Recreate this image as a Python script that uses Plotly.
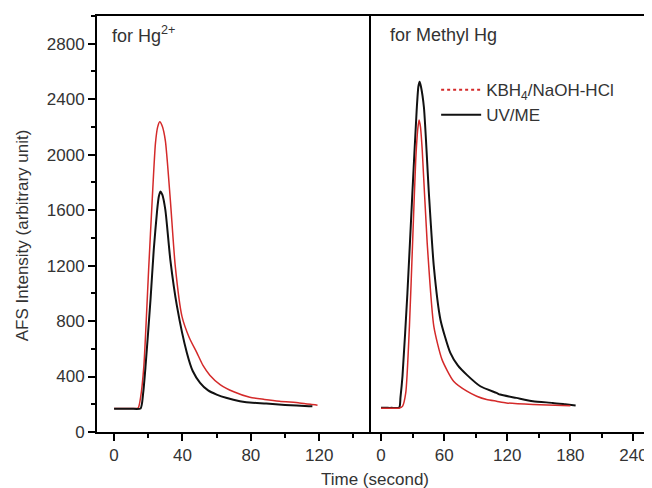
import plotly.graph_objects as go

# ---- data ----
hg_kbh_t = [0, 5, 10, 14, 15.5, 17.4, 20.3, 22.3, 24.2, 25.5, 26.7, 28.2, 30, 32.9, 35.8, 39.7, 44, 48.4, 52, 56, 62, 70, 79.4, 88, 96.8, 108.4, 115, 119]
hg_kbh_y = [170, 170, 170, 172, 250, 474, 1194, 1674, 2083, 2200, 2238, 2205, 2100, 1674, 1194, 834, 680, 572, 480, 410, 342, 290, 250, 235, 222, 210, 200, 193]

hg_uv_t = [0, 5, 10, 15.5, 17, 18.4, 21.3, 23.2, 25.2, 26.2, 27.1, 28.2, 30, 32.9, 36.8, 42.6, 46, 50.3, 55, 60, 66, 73.6, 77.4, 89, 100, 114, 116]
hg_uv_y = [168, 168, 168, 170, 280, 474, 954, 1314, 1602, 1700, 1734, 1712, 1600, 1242, 906, 570, 440, 355, 300, 270, 245, 222, 215, 205, 195, 186, 185]

me_kbh_t = [0, 5, 10, 17, 20.4, 23.5, 27, 30, 33, 35, 36.2, 37.5, 39.2, 43.9, 50.2, 58, 69, 81.6, 91, 100.4, 109.8, 119.2, 144.4, 172.6, 180]
me_kbh_y = [172, 172, 172, 172, 185, 282, 762, 1362, 1962, 2190, 2250, 2200, 2030, 1362, 762, 522, 366, 294, 258, 234, 222, 210, 198, 191, 190]

me_uv_t = [0, 5, 10, 17.3, 18.5, 20.4, 25.1, 29.8, 33.9, 35.5, 36.7, 38, 40.8, 45.5, 50.2, 56.5, 65.9, 73, 81.6, 94.4, 109.8, 113.2, 128.7, 144.4, 163.2, 175, 185]
me_uv_y = [174, 174, 174, 176, 250, 402, 1002, 1722, 2322, 2490, 2526, 2490, 2340, 1722, 1194, 810, 570, 480, 412, 330, 282, 270, 246, 222, 210, 200, 191]

series_names = ["KBH<sub>4</sub>/NaOH-HCl", "UV/ME"]
panel_labels = ["for Hg<sup>2+</sup>", "for Methyl Hg"]
y_ticks = [0, 400, 800, 1200, 1600, 2000, 2400, 2800]
x1_ticks = [0, 40, 80, 120]
x2_ticks = [0, 60, 120, 180, 240]

RED = "#d42a2a"
BLACK = "#111111"
FONT = "Liberation Sans, Arial, sans-serif"
TXT = "#333333"

fig = go.Figure()

fig.add_trace(go.Scatter(x=hg_kbh_t, y=hg_kbh_y, xaxis="x", yaxis="y", mode="lines",
                         line=dict(color=RED, width=1.5, shape="spline", smoothing=0.6), showlegend=False))
fig.add_trace(go.Scatter(x=hg_uv_t, y=hg_uv_y, xaxis="x", yaxis="y", mode="lines",
                         line=dict(color=BLACK, width=2, shape="spline", smoothing=0.6), showlegend=False))
fig.add_trace(go.Scatter(x=me_uv_t, y=me_uv_y, xaxis="x2", yaxis="y2", mode="lines",
                         line=dict(color=BLACK, width=2, shape="spline", smoothing=0.6), showlegend=False))
fig.add_trace(go.Scatter(x=me_kbh_t, y=me_kbh_y, xaxis="x2", yaxis="y2", mode="lines",
                         line=dict(color=RED, width=1.5, shape="spline", smoothing=0.6), showlegend=False))

# legend entries
fig.add_trace(go.Scatter(x=[None], y=[None], xaxis="x2", yaxis="y2", mode="lines", name=series_names[0],
                         line=dict(color=RED, width=2, dash="dot")))
fig.add_trace(go.Scatter(x=[None], y=[None], xaxis="x2", yaxis="y2", mode="lines", name=series_names[1],
                         line=dict(color=BLACK, width=2)))

axis_common = dict(showline=True, linecolor="black", linewidth=2,
                   showgrid=False, zeroline=False, ticks="outside", ticklen=7, tickwidth=1.5,
                   tickcolor="black", tickfont=dict(family=FONT, size=17, color=TXT))

fig.update_layout(
    width=644, height=480,
    margin=dict(l=89, r=4, t=8, b=56),
    paper_bgcolor="white", plot_bgcolor="white",
    font=dict(family=FONT, color=TXT, size=17),
    xaxis=dict(domain=[0, 0.5], range=[-10, 150], tickvals=x1_ticks, mirror=True,
               minor=dict(tickvals=[20, 60, 100, 140], ticks="outside", ticklen=4, tickwidth=1.5, tickcolor="black"),
               anchor="y", **axis_common),
    xaxis2=dict(domain=[0.5, 1], range=[-10, 250], tickvals=x2_ticks, mirror=True,
                minor=dict(tickvals=[30, 90, 150, 210], ticks="outside", ticklen=4, tickwidth=1.5, tickcolor="black"),
                anchor="y2", **axis_common),
    yaxis=dict(range=[0, 3000], tickvals=y_ticks, anchor="x", mirror=False,
               minor=dict(dtick=200, ticks="outside", ticklen=4, tickwidth=1.5, tickcolor="black"),
               **axis_common),
    yaxis2=dict(range=[0, 3000], anchor="x2", showline=True, linecolor="black", linewidth=2, mirror=True,
                showgrid=False, zeroline=False, ticks="", showticklabels=False),
    legend=dict(x=0.62, y=0.865, xanchor="left", yanchor="top", bgcolor="rgba(0,0,0,0)",
                font=dict(family=FONT, size=17, color=TXT), itemwidth=40, tracegroupgap=0),
    annotations=[
        dict(text=panel_labels[0], xref="paper", yref="paper", x=0.024, y=0.955, xanchor="left", yanchor="middle",
             showarrow=False, font=dict(family=FONT, size=18, color=TXT)),
        dict(text=panel_labels[1], xref="paper", yref="paper", x=0.532, y=0.955, xanchor="left", yanchor="middle",
             showarrow=False, font=dict(family=FONT, size=18, color=TXT)),
        dict(text="AFS Intensity (arbitrary unit)", xref="paper", yref="paper", x=-0.136, y=0.472,
             xanchor="center", yanchor="middle", textangle=-90, showarrow=False,
             font=dict(family=FONT, size=17, color=TXT)),
        dict(text="Time (second)", xref="paper", yref="paper", x=0.508, y=-0.114,
             xanchor="center", yanchor="middle", showarrow=False, font=dict(family=FONT, size=17, color=TXT)),
    ],
)

fig.write_html("out.html")
